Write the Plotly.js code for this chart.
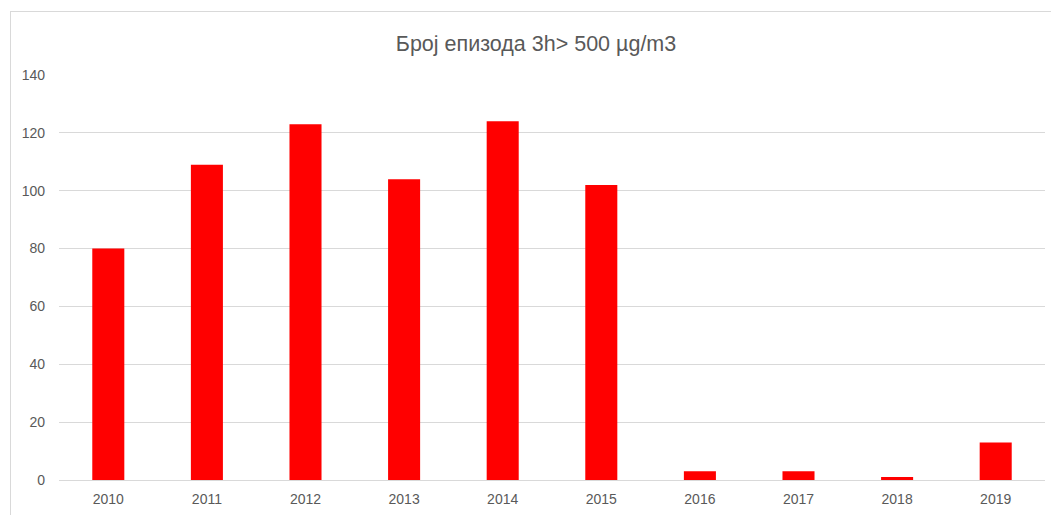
<!DOCTYPE html>
<html>
<head>
<meta charset="utf-8">
<script src="https://cdn.plot.ly/plotly-3.0.1.min.js"></script>
<style>
html,body{margin:0;padding:0;background:#fff;overflow:hidden;}
#chart{position:absolute;left:0;top:0;width:1051px;height:515px;}
#frame{position:absolute;left:10px;top:11px;width:1100px;height:600px;border:1px solid #d9d9d9;pointer-events:none;}
</style>
</head>
<body>
<div id="chart"></div>
<div id="frame"></div>
<script>
const years = ['2010','2011','2012','2013','2014','2015','2016','2017','2018','2019'];
const episodes = [80, 109, 123, 104, 124, 102, 3, 3, 1, 13];
const yTicks = [0, 20, 40, 60, 80, 100, 120, 140];
const chartTitle = 'Број епизода 3h> 500 µg/m3';

const font = 'Liberation Sans, Arial, sans-serif';
Plotly.newPlot('chart', [{
  type: 'bar',
  x: years,
  y: episodes,
  marker: {color: '#ff0000'},
  hoverinfo: 'x+y'
}], {
  width: 1051, height: 515,
  margin: {l: 59, r: 6, t: 75, b: 35},
  paper_bgcolor: 'rgba(0,0,0,0)',
  plot_bgcolor: '#fff',
  bargap: 0.675,
  showlegend: false,
  title: {
    text: chartTitle,
    font: {family: font, size: 21.5, color: '#595959'},
    x: 0.51, xref: 'container', xanchor: 'center',
    y: 0.915, yref: 'container', yanchor: 'middle'
  },
  xaxis: {
    type: 'category',
    showgrid: false, showline: false, zeroline: false,
    ticks: '',
    ticklabelstandoff: 9,
    tickfont: {family: font, size: 14, color: '#595959'},
    fixedrange: true
  },
  yaxis: {
    range: [0, 140],
    tickvals: yTicks,
    showgrid: true, gridcolor: '#d9d9d9', gridwidth: 1,
    zeroline: true, zerolinecolor: '#d9d9d9', zerolinewidth: 1,
    showline: false, ticks: '',
    ticklabelstandoff: 13,
    tickfont: {family: font, size: 14, color: '#595959'},
    fixedrange: true
  }
}, {displayModeBar: false, staticPlot: true});
</script>
</body>
</html>
